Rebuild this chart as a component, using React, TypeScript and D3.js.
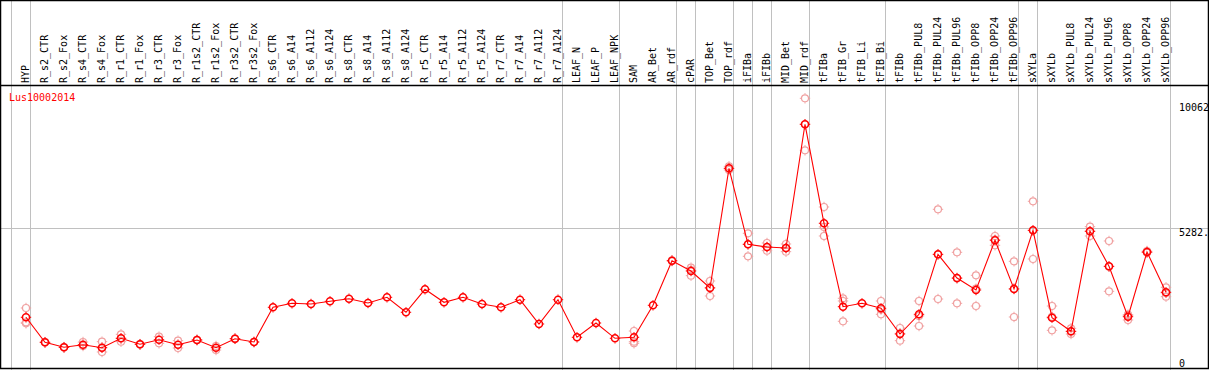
import React from 'react';
import * as d3 from 'd3';

// sample / condition names, left to right
const columns = [
  'HYP', 'R_s2_CTR', 'R_s2_Fox', 'R_s4_CTR', 'R_s4_Fox', 'R_r1_CTR', 'R_r1_Fox',
  'R_r3_CTR', 'R_r3_Fox', 'R_r1s2_CTR', 'R_r1s2_Fox', 'R_r3s2_CTR', 'R_r3s2_Fox',
  'R_s6_CTR', 'R_s6_A14', 'R_s6_A112', 'R_s6_A124', 'R_s8_CTR', 'R_s8_A14',
  'R_s8_A112', 'R_s8_A124', 'R_r5_CTR', 'R_r5_A14', 'R_r5_A112', 'R_r5_A124',
  'R_r7_CTR', 'R_r7_A14', 'R_r7_A112', 'R_r7_A124', 'LEAF_N', 'LEAF_P', 'LEAF_NPK',
  'SAM', 'AR_Bet', 'AR_rdf', 'cPAR', 'TOP_Bet', 'TOP_rdf', 'iFIBa', 'iFIBb',
  'MID_Bet', 'MID_rdf', 'tFIBa', 'tFIB_Gr', 'tFIB_Li', 'tFIB_Bi', 'tFIBb',
  'tFIBb_PUL8', 'tFIBb_PUL24', 'tFIBb_PUL96', 'tFIBb_OPP8', 'tFIBb_OPP24',
  'tFIBb_OPP96', 'sXYLa', 'sXYLb', 'sXYLb_PUL8', 'sXYLb_PUL24', 'sXYLb_PUL96',
  'sXYLb_OPP8', 'sXYLb_OPP24', 'sXYLb_OPP96',
];

// mean expression per column
const means = [
  1699, 692, 491, 596, 475, 853, 612, 797, 596, 785, 475, 837, 704,
  2101, 2262, 2234, 2343, 2447, 2274, 2504, 1900, 2826, 2302, 2504, 2234,
  2101, 2407, 1429, 2407, 894, 1469, 853,
  894, 2182, 3977, 3562, 2878, 7696, 4637, 4528, 4488, 9467,
  5482, 2125, 2262, 2061, 1026, 1819, 4234, 3280, 2797, 4798, 2838,
  5200, 1682, 1135, 5160, 3751, 1723, 4327, 2705,
];

// individual replicates per column
const replicates = [
  [2073, 1497, 1457], [700, 680], [500, 480], [704, 543], [716, 302, 475],
  [1014, 716, 853], [620, 600], [918, 652], [757, 463], [790, 780], [382, 543],
  [840, 830], [710, 700],
  [], [], [], [], [], [], [], [], [], [], [], [], [], [], [], [], [], [], [],
  [1147, 716, 652], [], [3990, 3960], [3695, 3373, 3600], [3160, 2556, 2900],
  [7776, 7627, 7690], [5080, 4154, 4637], [4689, 4379, 4520], [4649, 4339, 4480],
  [10513, 8420, 9468], [6138, 4971, 5337], [2463, 2355, 1538], [],
  [2355, 1819, 2009], [1268, 757, 1053], [2355, 1348, 1754], [6046, 2435, 4221],
  [4315, 2262, 3263], [3389, 2153, 2849], [4971, 4597, 4826], [3953, 1711, 2850],
  [6368, 4045, 5187], [2153, 1175, 1718], [1256, 1026, 1123], [5345, 4971, 5164],
  [4770, 2745, 3738], [1803, 1590, 1776], [4367, 4300, 4314], [2906, 2528, 2681],
];

// gray separators drawn after these columns
const groupEnds = [
  'HYP', 'R_r7_A124', 'LEAF_NPK', 'AR_rdf', 'cPAR', 'TOP_rdf', 'iFIBa', 'iFIBb',
  'MID_rdf', 'tFIB_Bi', 'tFIBb_OPP96', 'sXYLa', 'sXYLb_OPP96',
];

const yTicks = [0, 5282, 10062];
const yTickLabels = ['0', '5282.', '10062'];
const geneName = 'Lus10002014';

const W = 1209;
const H = 370;
const FONT = '"DejaVu Sans Mono", monospace';
const RED = '#ff0000';
const PINK = '#f0a0a0';
const GRID = '#c0c0c0';

const Marker = ({ x, y, color, sw }) => (
  <g stroke={color} strokeWidth={sw} fill="none">
    <circle cx={x} cy={y} r={3.5} />
    <line x1={x} y1={y - 4} x2={x} y2={y - 5.2} strokeWidth={1} />
    <line x1={x} y1={y + 4} x2={x} y2={y + 5.2} strokeWidth={1} />
    <line x1={x - 4} y1={y} x2={x - 5.2} y2={y} strokeWidth={1} />
    <line x1={x + 4} y1={y} x2={x + 5.2} y2={y} strokeWidth={1} />
  </g>
);

const App = () => {
  const x = d3.scalePoint().domain(columns).range([26, 1166]);
  const y = d3.scaleLinear().domain([0, 10062]).range([359.5, 109.5]);
  const step = x.step();

  const line = d3
    .line<number>()
    .x((d, i) => x(columns[i]))
    .y((d) => y(d));

  const seps = [x(columns[0]) - step / 2 - 5.5].concat(
    groupEnds.map((c) => x(c) + step / 2 - 5.5)
  );

  return (
    <svg
      width={W}
      height={H}
      style={{ position: 'absolute', left: 0, top: 0, display: 'block', background: '#fff' }}
      fontFamily={FONT}
      fontSize={10}
    >
      {/* grid */}
      {seps.map((sx, i) => (
        <line key={'s' + i} x1={Math.round(sx) + 0.5} x2={Math.round(sx) + 0.5} y1={0} y2={H}
          stroke={GRID} strokeWidth={1} />
      ))}
      <line x1={0} x2={W} y1={Math.round(y(5282)) + 0.5} y2={Math.round(y(5282)) + 0.5}
        stroke={GRID} strokeWidth={1} />

      {/* frame */}
      <rect x={0.5} y={0.5} width={W - 1} height={H - 2} fill="none" stroke="#000" strokeWidth={1.5} />
      <line x1={0} x2={W} y1={85.5} y2={85.5} stroke="#000" strokeWidth={1.5} />

      {/* column labels */}
      {columns.map((c) => (
        <text key={c} transform={`translate(${x(c) + 3},83) rotate(-90)`} fill="#000">
          {c}
        </text>
      ))}

      {/* y tick labels */}
      {yTicks.map((t, i) => (
        <text key={t} x={1179} y={y(t) + (i === yTicks.length - 1 ? 1 : 7.5)} fill="#000">
          {yTickLabels[i]}
        </text>
      ))}

      <text x={9} y={101} fill={RED}>{geneName}</text>

      {/* replicates */}
      {replicates.map((reps, i) =>
        reps.map((v, j) => (
          <Marker key={`r${i}-${j}`} x={x(columns[i])} y={y(v)} color={PINK} sw={1.2} />
        ))
      )}

      <path d={line(means)} fill="none" stroke={RED} strokeWidth={1.1} />

      {means.map((v, i) => (
        <Marker key={'m' + i} x={x(columns[i])} y={y(v)} color={RED} sw={1.5} />
      ))}
    </svg>
  );
};

export default App;
